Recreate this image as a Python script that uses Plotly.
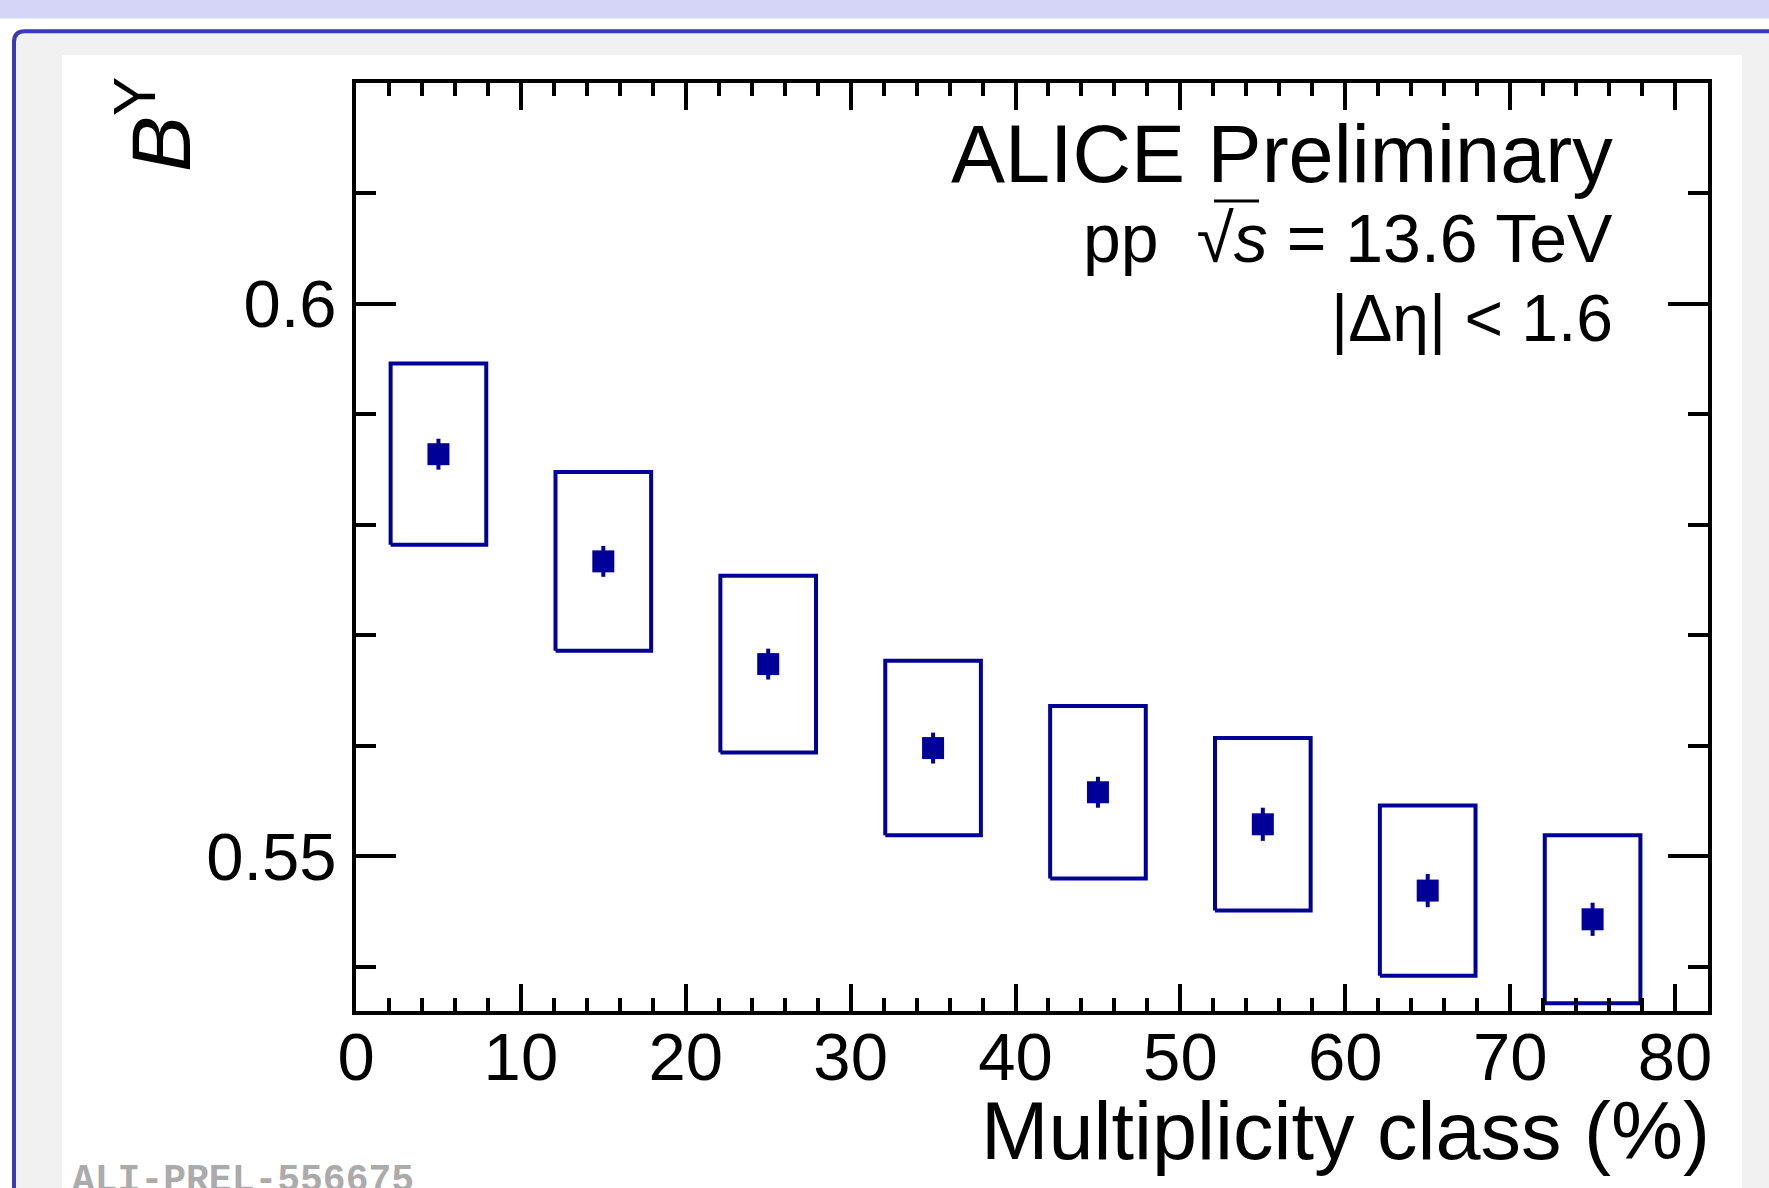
import plotly.graph_objects as go

# ---------------- data ----------------
mult_class = [5, 15, 25, 35, 45, 55, 65, 75]
b_y = [0.5864, 0.5767, 0.5674, 0.5598, 0.5558, 0.5529, 0.5469, 0.5443]
stat_err = [0.0014, 0.0014, 0.0014, 0.0014, 0.0014, 0.0015, 0.0015, 0.0015]
syst_err = [0.0082, 0.0081, 0.0080, 0.0079, 0.0078, 0.0078, 0.0077, 0.0076]
x_tick_vals = [0, 10, 20, 30, 40, 50, 60, 70, 80]
x_tick_text = ["0", "10", "20", "30", "40", "50", "60", "70", "80"]
y_tick_vals = [0.55, 0.60]
y_tick_text = ["0.55", "0.6"]

# ---------------- layout geometry ----------------
W_FIG, H_FIG = 1769, 1188
ML, MR, MT, MB = 356, 61, 83, 177
PW = W_FIG - ML - MR
PH = H_FIG - MT - MB
BOX_HALF = 2.9
BLUE = "#000099"
FONT = "Liberation Sans, Arial, Helvetica, sans-serif"


def px_x(x):
    return (x - ML) / PW


def px_y(y):
    return 1 - (y - MT) / PH


def pt(x, y):
    return f"{px_x(x):.5f},{px_y(y):.5f}"


# systematic boxes as one closed-path trace
bx, by = [], []
for xc, yc, s in zip(mult_class, b_y, syst_err):
    x0, x1 = xc - BOX_HALF, xc + BOX_HALF
    y0, y1 = yc - s, yc + s
    bx += [x0, x1, x1, x0, x0, None]
    by += [y0, y0, y1, y1, y0, None]

fig = go.Figure()
fig.add_trace(go.Scatter(
    x=bx, y=by, mode="lines",
    line=dict(color=BLUE, width=4),
    hoverinfo="skip", showlegend=False,
))
fig.add_trace(go.Scatter(
    x=mult_class, y=b_y, mode="markers",
    marker=dict(symbol="square", size=22, color=BLUE, line=dict(width=0)),
    error_y=dict(type="data", array=stat_err, visible=True,
                 color=BLUE, thickness=4, width=0),
    showlegend=False,
))

shapes = [
    # top lavender band
    dict(type="rect", xref="paper", yref="paper", layer="below",
         x0=px_x(-10), x1=px_x(1900), y0=px_y(-10), y1=px_y(18.5),
         fillcolor="#d5d5f7", line=dict(width=0)),
    # rounded blue frame with grey fill
    dict(type="path", xref="paper", yref="paper", layer="below",
         path=(f"M {pt(14, 42)} Q {pt(14, 31.3)} {pt(24.7, 31.3)} "
               f"L {pt(1900, 31.3)} L {pt(1900, 1400)} L {pt(14, 1400)} Z"),
         fillcolor="#f1f1f1", line=dict(color="#3a3ab8", width=4)),
    # white panel
    dict(type="rect", xref="paper", yref="paper", layer="below",
         x0=px_x(62), x1=px_x(1742), y0=px_y(1400), y1=px_y(55),
         fillcolor="white", line=dict(width=0)),
    # bar of the square-root sign over "s"
    dict(type="line", xref="paper", yref="paper", layer="above",
         x0=px_x(1214), x1=px_x(1259), y0=px_y(201), y1=px_y(201),
         line=dict(color="black", width=3)),
]

annotations = [
    dict(text="ALICE Preliminary", x=px_x(1615), y=px_y(154),
         xref="paper", yref="paper", xanchor="right", yanchor="middle",
         showarrow=False, font=dict(family=FONT, size=81, color="black")),
    dict(text="pp  √<i>s</i> = 13.6 TeV",
         x=px_x(1615), y=px_y(238),
         xref="paper", yref="paper", xanchor="right", yanchor="middle",
         showarrow=False, font=dict(family=FONT, size=68, color="black")),
    dict(text="|Δη| &lt; 1.6", x=px_x(1615), y=px_y(318),
         xref="paper", yref="paper", xanchor="right", yanchor="middle",
         showarrow=False, font=dict(family=FONT, size=66, color="black")),
    dict(text="Multiplicity class (%)", x=px_x(1712), y=px_y(1131),
         xref="paper", yref="paper", xanchor="right", yanchor="middle",
         showarrow=False, font=dict(family=FONT, size=81, color="black")),
    dict(text="<i>B</i><sup>Y</sup>", x=px_x(155), y=px_y(125),
         xref="paper", yref="paper", xanchor="center", yanchor="middle",
         textangle=-90,
         showarrow=False, font=dict(family=FONT, size=84, color="black")),
    dict(text="<b>ALI-PREL-556675</b>", x=px_x(70), y=px_y(1180),
         xref="paper", yref="paper", xanchor="left", yanchor="middle",
         showarrow=False,
         font=dict(family="Liberation Mono, Courier New, monospace", size=38,
                   color="#ababab")),
]

fig.update_layout(
    width=W_FIG, height=H_FIG,
    margin=dict(l=ML, r=MR, t=MT, b=MB, pad=0),
    paper_bgcolor="white", plot_bgcolor="white",
    shapes=shapes, annotations=annotations,
    showlegend=False,
)

fig.update_xaxes(
    range=[0, 82], showline=True, linewidth=4, linecolor="black",
    mirror="ticks", ticks="inside", ticklen=27, tickwidth=4, tickcolor="black",
    tickmode="array", tickvals=x_tick_vals, ticktext=x_tick_text,
    minor=dict(ticks="inside", dtick=2, tick0=0, ticklen=13, tickwidth=4,
               tickcolor="black", showgrid=False),
    showgrid=False, zeroline=False,
    tickfont=dict(family=FONT, size=67, color="black"),
    ticklabelstandoff=-15,
)
fig.update_yaxes(
    range=[0.536, 0.62], showline=True, linewidth=4, linecolor="black",
    mirror="ticks", ticks="inside", ticklen=40, tickwidth=4, tickcolor="black",
    tickmode="array", tickvals=y_tick_vals, ticktext=y_tick_text,
    minor=dict(ticks="inside", dtick=0.01, tick0=0.5, ticklen=20, tickwidth=4,
               tickcolor="black", showgrid=False),
    showgrid=False, zeroline=False,
    tickfont=dict(family=FONT, size=67, color="black"),
    ticklabelstandoff=2,
)

fig.write_html(
    "out.html",
    config={"displayModeBar": False},
    post_script="document.body.style.margin='0px';",
)
